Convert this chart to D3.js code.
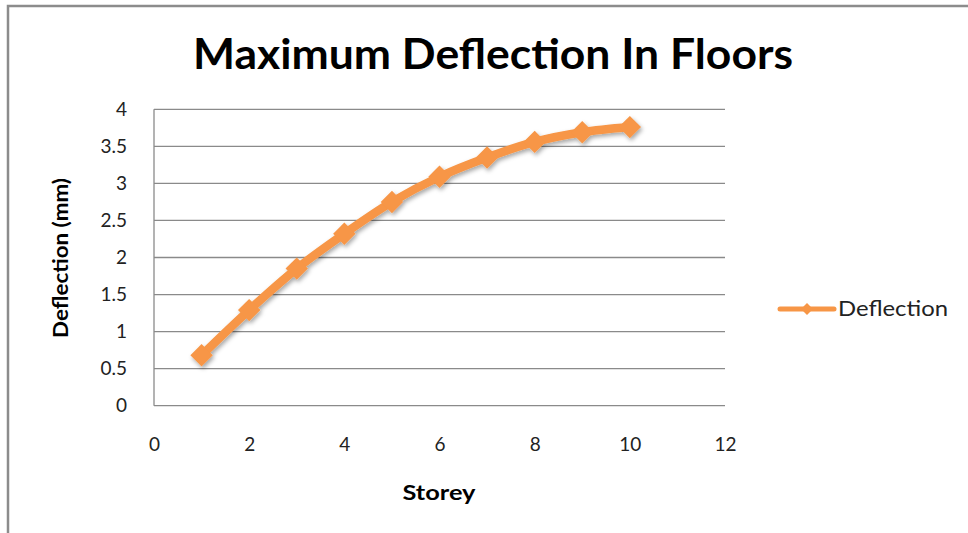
<!DOCTYPE html>
<html><head><meta charset="utf-8">
<script src="https://cdn.jsdelivr.net/npm/d3@7"></script>
<style>body{margin:0;background:#fff}svg{display:block}</style>
</head><body>
<script>
const storeys = [1,2,3,4,5,6,7,8,9,10];
const deflection = [0.68,1.29,1.85,2.32,2.75,3.09,3.35,3.56,3.69,3.76];
const xTicks = [0,2,4,6,8,10,12];
const yTicks = [0,0.5,1,1.5,2,2.5,3,3.5,4];
const seriesName = "Deflection";
const W=968,H=533;
const svg=d3.select("body").append("svg").attr("width",W).attr("height",H);
const defs=svg.append("defs");
const f=defs.append("filter").attr("id","sh").attr("x","-50%").attr("y","-50%").attr("width","200%").attr("height","200%");
f.append("feDropShadow").attr("dx",1.5).attr("dy",2.5).attr("stdDeviation",2).attr("flood-color","#000").attr("flood-opacity",0.35);
svg.append("rect").attr("width",W).attr("height",H).attr("fill","#fff");
// border
svg.append("path").attr("d",`M8,${H} V6 H${W}`).attr("fill","none").attr("stroke","#8c8c8c").attr("stroke-width",2.5);
const font="Lato, 'Open Sans', sans-serif";
const x=d3.scaleLinear().domain([0,12]).range([154,725]);
const y=d3.scaleLinear().domain([0,4]).range([405.7,109.3]);
// gridlines
svg.append("g").selectAll("line").data(yTicks).join("line")
 .attr("x1",x(0)).attr("x2",x(12)).attr("y1",d=>y(d)).attr("y2",d=>y(d))
 .attr("stroke","#8a8a8a").attr("stroke-width",1.3);
svg.append("line").attr("x1",x(0)).attr("x2",x(0)).attr("y1",y(4)).attr("y2",y(0)).attr("stroke","#8a8a8a").attr("stroke-width",1.3);
// y axis labels
const ya=svg.append("g").attr("transform",`translate(${x(0)-10},0)`).call(d3.axisLeft(y).tickValues(yTicks).tickSize(0).tickPadding(17).tickFormat(d3.format("")));
ya.select(".domain").remove();
ya.selectAll("text").attr("font-family",font).attr("font-size",19).attr("fill","#222");
const xa=svg.append("g").attr("transform",`translate(0,${y(0)+32})`).call(d3.axisBottom(x).tickValues(xTicks).tickSize(0).tickPadding(0).tickFormat(d3.format("")));
xa.select(".domain").remove();
xa.selectAll("text").attr("font-family",font).attr("font-size",19).attr("fill","#222");
// title
svg.append("text").attr("x",493).attr("y",69).attr("text-anchor","middle").attr("font-family",font).attr("font-weight","bold").attr("font-size",42).attr("textLength",600).attr("lengthAdjust","spacingAndGlyphs").attr("fill","#000").text("Maximum Deflection In Floors");
svg.append("text").attr("x",439).attr("y",500).attr("text-anchor","middle").attr("font-family",font).attr("font-weight","bold").attr("font-size",21).attr("textLength",73).attr("lengthAdjust","spacingAndGlyphs").attr("fill","#000").text("Storey");
svg.append("text").attr("transform","translate(68,258) rotate(-90)").attr("text-anchor","middle").attr("font-family",font).attr("font-weight","bold").attr("font-size",20).attr("textLength",160).attr("lengthAdjust","spacingAndGlyphs").attr("fill","#000").text("Deflection (mm)");
// series
const color="#F79646";
const data=storeys.map((s,i)=>({x:s,y:deflection[i]}));
const g=svg.append("g").attr("filter","url(#sh)");
g.append("path").datum(data).attr("d",d3.line().x(d=>x(d.x)).y(d=>y(d.y)).curve(d3.curveMonotoneX))
 .attr("fill","none").attr("stroke",color).attr("stroke-width",8.5).attr("stroke-linejoin","round");
const diamond=d3.symbol().type(d3.symbolDiamond2).size(320);
g.selectAll(".m").data(data).join("path").attr("d",diamond).attr("transform",d=>`translate(${x(d.x)},${y(d.y)})`).attr("fill",color);
// legend
const lg=svg.append("g");
lg.append("line").attr("x1",780).attr("x2",834).attr("y1",309).attr("y2",309).attr("stroke",color).attr("stroke-width",5).attr("stroke-linecap","round");
lg.append("path").attr("d",d3.symbol().type(d3.symbolDiamond2).size(90)).attr("transform","translate(807,309)").attr("fill",color);
lg.append("text").attr("x",838).attr("y",316).attr("font-family",font).attr("font-size",21).attr("textLength",110).attr("lengthAdjust","spacingAndGlyphs").attr("fill","#222").text(seriesName);
</script>
</body></html>
